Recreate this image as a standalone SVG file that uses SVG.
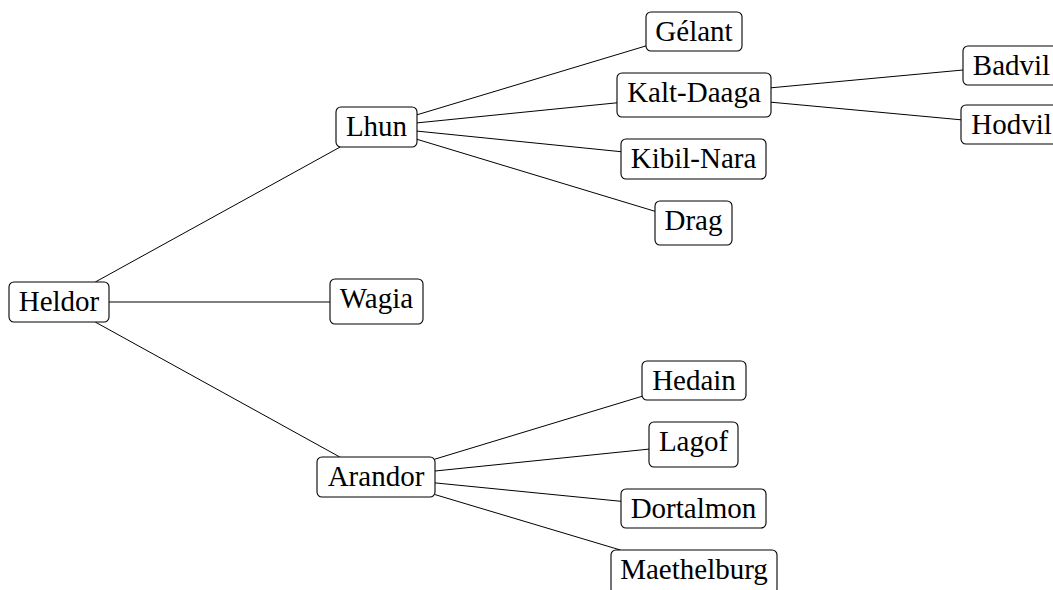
<svg xmlns="http://www.w3.org/2000/svg" width="1053" height="590" viewBox="0 0 1053 590">
<style>
.box{fill:#fff;stroke:#000;stroke-width:1.1}
.lbl{font-family:"Liberation Serif","Times New Roman",serif;font-size:29px;fill:#000;text-anchor:middle}
.edge{stroke:#000;stroke-width:1;fill:none}
</style>
<rect width="1053" height="590" fill="#fff"/>
<g id="connectors">
<line class="edge" x1="95.3" y1="282" x2="340.2" y2="147"/>
<line class="edge" x1="109" y1="302" x2="330" y2="302"/>
<line class="edge" x1="95.2" y1="322" x2="339.8" y2="457"/>
<line class="edge" x1="417" y1="114.8" x2="646" y2="45.9"/>
<line class="edge" x1="417" y1="122.9" x2="617" y2="102.8"/>
<line class="edge" x1="417" y1="131.1" x2="621" y2="151.7"/>
<line class="edge" x1="417" y1="139.3" x2="655" y2="211.3"/>
<line class="edge" x1="771" y1="87.8" x2="963" y2="70"/>
<line class="edge" x1="771" y1="102.2" x2="961" y2="119.8"/>
<line class="edge" x1="435" y1="459.1" x2="642" y2="396.3"/>
<line class="edge" x1="435" y1="471" x2="649" y2="449.1"/>
<line class="edge" x1="435" y1="482.9" x2="621" y2="501.3"/>
<line class="edge" x1="435" y1="494.6" x2="620.4" y2="550"/>
</g>
<g id="heldor"><rect class="box" x="9" y="282" width="100" height="40" rx="5"/><text class="lbl" x="59" y="310.5">Heldor</text></g>
<g id="lhun"><rect class="box" x="336" y="107" width="81" height="40" rx="5"/><text class="lbl" x="376.5" y="135.5">Lhun</text></g>
<g id="wagia"><rect class="box" x="330" y="279" width="93" height="45" rx="5"/><text class="lbl" x="376.5" y="307.5">Wagia</text></g>
<g id="arandor"><rect class="box" x="317" y="457" width="118" height="40" rx="5"/><text class="lbl" x="376" y="485.5">Arandor</text></g>
<g id="gelant"><rect class="box" x="646" y="12" width="96" height="39" rx="5"/><text class="lbl" x="694" y="40.5">Gélant</text></g>
<g id="kalt-daaga"><rect class="box" x="617" y="73" width="154" height="44" rx="5"/><text class="lbl" x="694" y="101.5">Kalt-Daaga</text></g>
<g id="kibil-nara"><rect class="box" x="621" y="139" width="145" height="40" rx="5"/><text class="lbl" x="693.5" y="167.5">Kibil-Nara</text></g>
<g id="drag"><rect class="box" x="655" y="201" width="77" height="44" rx="5"/><text class="lbl" x="693.5" y="229.5">Drag</text></g>
<g id="badvil"><rect class="box" x="963" y="46" width="97" height="39" rx="5"/><text class="lbl" x="1011.5" y="74.5">Badvil</text></g>
<g id="hodvil"><rect class="box" x="961" y="105" width="101" height="39" rx="5"/><text class="lbl" x="1011.5" y="133.5">Hodvil</text></g>
<g id="hedain"><rect class="box" x="642" y="361" width="104" height="39" rx="5"/><text class="lbl" x="694" y="389.5">Hedain</text></g>
<g id="lagof"><rect class="box" x="649" y="422" width="89" height="45" rx="5"/><text class="lbl" x="693.5" y="450.5">Lagof</text></g>
<g id="dortalmon"><rect class="box" x="621" y="489" width="145" height="39" rx="5"/><text class="lbl" x="693.5" y="517.5">Dortalmon</text></g>
<g id="maethelburg"><rect class="box" x="611" y="550" width="166" height="44" rx="5"/><text class="lbl" x="694" y="578.5">Maethelburg</text></g>
</svg>
